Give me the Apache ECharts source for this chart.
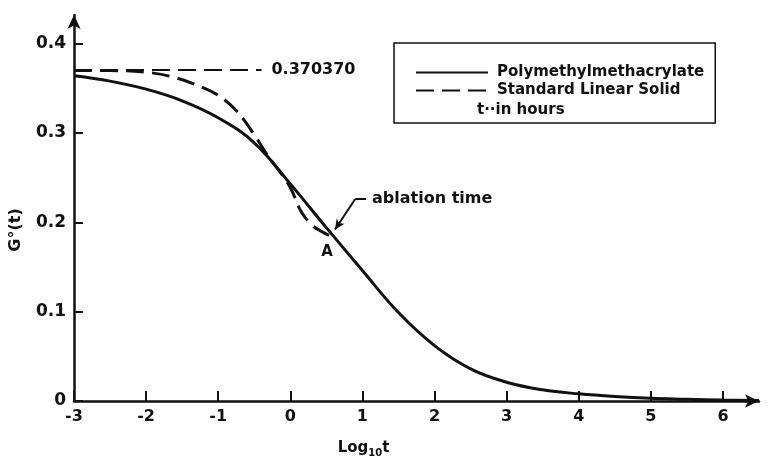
<!DOCTYPE html>
<html>
<head>
<meta charset="utf-8">
<script src="https://cdn.jsdelivr.net/npm/echarts@6/dist/echarts.min.js"></script>
<style>
  html, body { margin: 0; padding: 0; background: #fff; }
  #chart { width: 769px; height: 463px; }
</style>
</head>
<body>
<div id="chart"></div>
<script>
// log10 t values and G°(t) for PMMA (solid)
const pmmaLogT = [-3, -2.5, -2, -1.5, -1, -0.5, 0, 0.5, 1, 1.5, 2, 2.5, 3, 3.5, 4, 4.5, 5, 5.5, 6, 6.5]
const pmmaG = [0.364, 0.358, 0.349, 0.336, 0.317, 0.289, 0.243, 0.194, 0.146, 0.099, 0.062, 0.036, 0.021, 0.0125, 0.008, 0.005, 0.003, 0.002, 0.001, 0.0005]

// standard linear solid (dashed), ends at the ablation point A
const slsLogT = [-3, -2.5, -2, -1.6, -1.25, -1, -0.75, -0.5, -0.3, -0.15, 0, 0.15, 0.3, 0.45, 0.55]
const slsG = [0.370, 0.3698, 0.368, 0.362, 0.352, 0.342, 0.325, 0.298, 0.273, 0.257, 0.239, 0.212, 0.197, 0.189, 0.185]

const asymptote = 0.370370 // horizontal reference
const asymptoteEnd = -0.4
const ablationPoint = [0.55, 0.185]
const ablationLabelAt = [1.05, 0.226]
const arrowKnee = [0.9, 0.226]
const arrowTip = [0.62, 0.192]

const xTicks = [-3, -2, -1, 0, 1, 2, 3, 4, 5, 6]
const yTicks = [0, 0.1, 0.2, 0.3, 0.4]

const font = 'DejaVu Sans'
const ink = '#111'

const zip = (xs, ys) => xs.map((x, i) => [x, ys[i]])

const chart = echarts.init(document.getElementById('chart'))

const option = {
  backgroundColor: '#fff',
  animation: false,
  textStyle: { fontFamily: font, color: ink },
  grid: { left: 73, right: 10, top: 15, bottom: 59 },
  legend: {
    orient: 'vertical',
    left: 394,
    top: 43,
    data: ['Polymethylmethacrylate', 'Standard Linear Solid'],
    itemWidth: 72,
    itemHeight: 17,
    itemGap: 3,
    padding: [22, 11, 25, 21],
    borderColor: ink,
    borderWidth: 1.5,
    itemStyle: { opacity: 0 },
    textStyle: { fontFamily: font, fontSize: 15, fontWeight: 'bold', color: ink, padding: [0, 0, 0, 4] }
  },
  graphic: [{
    type: 'text',
    left: 477,
    top: 103,
    style: { text: 't··in hours', font: 'bold 15px "DejaVu Sans"', fill: ink }
  }],
  xAxis: {
    type: 'value',
    min: -3,
    max: 6.5,
    name: '{a|Log}{s|10}{a|t}',
    nameLocation: 'middle',
    nameGap: 38,
    nameTextStyle: {
      padding: [0, 106, 0, 0],
      rich: {
        a: { fontFamily: font, fontSize: 15, fontWeight: 'bold', color: ink },
        s: { fontFamily: font, fontSize: 10, fontWeight: 'bold', color: ink, padding: [9, 0, 0, 0] }
      }
    },
    splitLine: { show: false },
    axisLine: { onZero: false, lineStyle: { color: ink, width: 2.5 }, symbol: ['none', 'arrow'], symbolSize: [10, 14] },
    axisTick: { inside: true, length: 10, lineStyle: { color: ink, width: 2 }, customValues: xTicks },
    axisLabel: { customValues: xTicks, margin: 8, fontSize: 16, fontWeight: 'bold', color: ink, fontFamily: font }
  },
  yAxis: {
    type: 'value',
    min: 0,
    max: 0.432,
    name: 'G°(t)',
    nameLocation: 'middle',
    nameRotate: 90,
    nameGap: 50,
    nameTextStyle: { fontFamily: font, fontSize: 16, fontWeight: 'bold', color: ink, padding: [0, 44, 0, 0] },
    splitLine: { show: false },
    axisLine: { onZero: false, lineStyle: { color: ink, width: 2.5 }, symbol: ['none', 'arrow'], symbolSize: [10, 14] },
    axisTick: { inside: true, length: 9, lineStyle: { color: ink, width: 2 }, customValues: yTicks },
    axisLabel: { customValues: yTicks, margin: 8, fontSize: 17, fontWeight: 'bold', color: ink, fontFamily: font }
  },
  series: [
    {
      name: 'Polymethylmethacrylate',
      type: 'line',
      data: zip(pmmaLogT, pmmaG),
      smooth: 0.4,
      symbol: 'none',
      color: ink,
      lineStyle: { color: ink, width: 3 },
      markPoint: {
        symbol: 'circle',
        symbolSize: 0,
        label: { show: true, color: ink, fontFamily: font, fontWeight: 'bold' },
        data: [
          { coord: ablationPoint, label: { formatter: 'A', fontSize: 15, offset: [-3, 16] } },
          { coord: ablationLabelAt, label: { formatter: 'ablation time', fontSize: 16, position: 'right', distance: 6 } }
        ]
      },
      markLine: {
        silent: true,
        symbol: ['none', 'none'],
        lineStyle: { color: ink, width: 2, type: 'solid' },
        label: { show: false },
        data: [
          [{ coord: ablationLabelAt, symbol: 'none' }, { coord: arrowKnee, symbol: 'none' }],
          [{ coord: arrowKnee, symbol: 'none' }, { coord: arrowTip, symbol: 'arrow', symbolSize: [7, 10] }]
        ]
      }
    },
    {
      name: 'Standard Linear Solid',
      type: 'line',
      data: zip(slsLogT, slsG),
      smooth: 0.4,
      symbol: 'none',
      color: ink,
      lineStyle: { color: ink, width: 3, type: [18, 8] },
      markLine: {
        silent: true,
        symbol: ['none', 'none'],
        lineStyle: { color: ink, width: 2, type: [18, 8] },
        label: { show: true, position: 'end', formatter: asymptote.toFixed(6), fontFamily: font, fontSize: 16, fontWeight: 'bold', color: ink, distance: 10 },
        data: [[{ coord: [-3, asymptote] }, { coord: [asymptoteEnd, asymptote] }]]
      }
    }
  ]
}

chart.setOption(option)
</script>
</body>
</html>
